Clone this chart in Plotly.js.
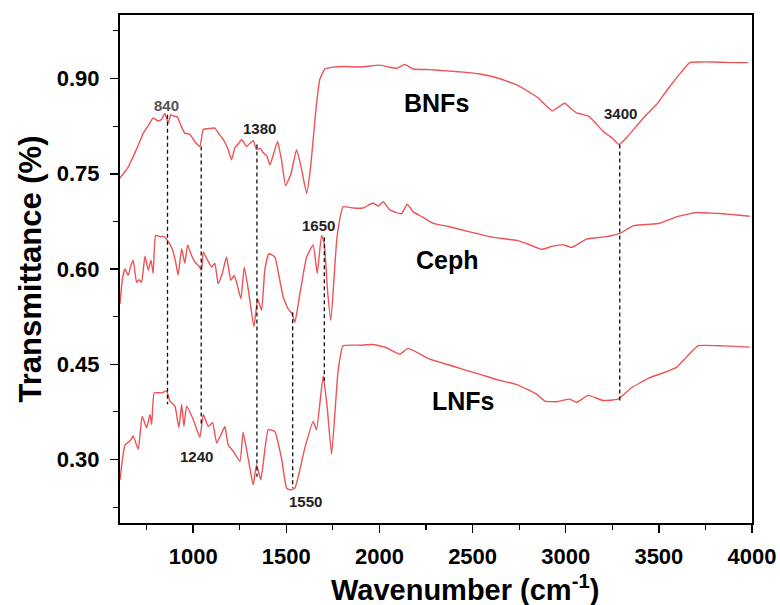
<!DOCTYPE html>
<html>
<head>
<meta charset="utf-8">
<script src="https://cdn.plot.ly/plotly-3.0.1.min.js"></script>
<style>html,body{margin:0;padding:0;background:#fff;}#chart{width:780px;height:605px;}</style>
</head>
<body>
<div id="chart"></div>
<script>
// ---- Data ----
const bnfsX = [607,650,678,705,732,760,785,812,830,848,866,880,893,916,935,955,982,1010,1036,1054,1080,1116,1140,1161,1185,1206,1224,1245,1260,1287,1305,1322,1340,1360,1376,1395,1412,1430,1453,1475,1496,1525,1555,1580,1609,1630,1644,1662,1680,1707,1751,1814,1900,2002,2050,2092,2136,2181,2270,2360,2450,2539,2620,2682,2750,2807,2850,2878,2929,2960,2995,3030,3058,3120,3160,3200,3250,3286,3330,3380,3430,3487,3530,3576,3620,3666,3720,3791,3880,3979];
const bnfsY = [0.743,0.760,0.777,0.795,0.814,0.826,0.838,0.833,0.836,0.845,0.830,0.843,0.841,0.839,0.825,0.814,0.812,0.800,0.793,0.820,0.821,0.822,0.812,0.804,0.790,0.772,0.791,0.798,0.804,0.793,0.798,0.802,0.788,0.790,0.783,0.778,0.764,0.780,0.801,0.770,0.731,0.750,0.788,0.760,0.719,0.760,0.804,0.860,0.899,0.915,0.918,0.919,0.918,0.921,0.918,0.916,0.922,0.915,0.914,0.912,0.910,0.907,0.902,0.896,0.888,0.878,0.870,0.862,0.849,0.855,0.861,0.852,0.846,0.841,0.830,0.817,0.806,0.796,0.808,0.825,0.842,0.859,0.876,0.894,0.910,0.925,0.926,0.926,0.925,0.925];

const cephX = [607,620,634,651,665,678,696,710,723,741,759,773,785,798,820,844,866,887,905,919,938,955,970,990,1009,1030,1045,1054,1075,1099,1116,1134,1156,1179,1202,1220,1233,1256,1274,1295,1326,1346,1367,1385,1406,1438,1460,1483,1510,1530,1546,1575,1609,1644,1666,1689,1704,1720,1739,1772,1805,1860,1912,1966,1993,2020,2056,2118,2149,2181,2230,2288,2370,2449,2520,2592,2660,2736,2800,2870,2930,2986,3031,3070,3111,3160,3219,3290,3361,3430,3504,3594,3650,3701,3780,3844,3920,3988];
const cephY = [0.545,0.585,0.600,0.590,0.605,0.614,0.579,0.583,0.579,0.620,0.598,0.614,0.593,0.653,0.651,0.651,0.643,0.632,0.612,0.590,0.632,0.609,0.638,0.622,0.611,0.605,0.598,0.627,0.615,0.603,0.609,0.577,0.593,0.619,0.582,0.590,0.579,0.553,0.603,0.569,0.509,0.553,0.535,0.600,0.624,0.619,0.590,0.556,0.537,0.530,0.516,0.565,0.619,0.638,0.593,0.653,0.640,0.570,0.519,0.650,0.698,0.696,0.696,0.704,0.699,0.706,0.693,0.687,0.702,0.690,0.682,0.672,0.667,0.661,0.656,0.651,0.648,0.645,0.639,0.631,0.636,0.638,0.634,0.640,0.647,0.649,0.651,0.656,0.668,0.670,0.672,0.682,0.686,0.689,0.688,0.687,0.685,0.683];

const lnfsX = [607,620,634,660,678,705,726,750,768,777,791,830,857,875,902,923,938,950,965,1000,1036,1054,1081,1104,1126,1149,1170,1188,1215,1251,1268,1295,1322,1340,1363,1403,1438,1474,1501,1519,1546,1599,1644,1662,1698,1720,1743,1778,1805,1900,1966,2038,2109,2154,2270,2360,2449,2540,2628,2736,2843,2888,2950,3022,3058,3120,3200,3281,3353,3451,3530,3594,3650,3710,3844,3988];
const lnfsY = [0.268,0.300,0.323,0.329,0.337,0.316,0.368,0.350,0.371,0.355,0.405,0.405,0.408,0.392,0.384,0.350,0.387,0.352,0.384,0.363,0.335,0.371,0.352,0.358,0.326,0.339,0.352,0.323,0.313,0.297,0.343,0.302,0.260,0.292,0.268,0.347,0.344,0.302,0.255,0.252,0.255,0.318,0.360,0.347,0.432,0.380,0.308,0.440,0.479,0.480,0.481,0.476,0.466,0.475,0.458,0.450,0.442,0.434,0.426,0.418,0.403,0.392,0.391,0.395,0.390,0.401,0.393,0.395,0.413,0.429,0.437,0.445,0.462,0.479,0.479,0.477];

// peak marker lines (dashed)
const peakX = [862,1043,1342,1534,1704,3290];
const peakTop = [0.843,0.793,0.796,0.532,0.650,0.796];
const peakBottom = [0.387,0.352,0.273,0.255,0.424,0.389];

// peak labels
const peakLabelText = ['840','1380','1650','3400','1240','1550'];
const peakLabelX = [857,1358,1671,3294,1018,1605];
const peakLabelY = [0.858,0.822,0.669,0.845,0.305,0.234];
const peakLabelColor = ['#555555','#222222','#222222','#222222','#222222','#222222'];

// series names
const seriesNames = ['BNFs','Ceph','LNFs'];
const seriesNameX = [2304,2365,2453];
const seriesNameY = [0.862,0.614,0.392];

const xTicks = [1000,1500,2000,2500,3000,3500,4000];
const yTicks = [0.30,0.45,0.60,0.75,0.90];
const xTitle = 'Wavenumber (cm<sup>-1</sup>)';
const yTitle = 'Transmittance (%)';

// ---- Plot ----
const FONT = 'Liberation Sans, Arial, sans-serif';
const red = 'rgb(237,82,86)';
const traces = [];
[[bnfsX,bnfsY,'BNFs'],[cephX,cephY,'Ceph'],[lnfsX,lnfsY,'LNFs']].forEach(([x,y,n])=>{
  traces.push({x:x,y:y,name:n,type:'scatter',mode:'lines',line:{color:red,width:1.4,shape:'spline',smoothing:0.4},showlegend:false,hoverinfo:'skip'});
});
peakX.forEach((px,i)=>{
  traces.push({x:[px,px],y:[peakTop[i],peakBottom[i]],type:'scatter',mode:'lines',
    line:{color:'#111',width:1.3,dash:'4px,3px'},showlegend:false,hoverinfo:'skip'});
});

const annotations = [];
peakLabelText.forEach((t,i)=>{
  annotations.push({x:peakLabelX[i],y:peakLabelY[i],text:t,showarrow:false,xref:'x',yref:'y',
    font:{family:FONT,size:15,color:peakLabelColor[i],weight:700}});
});
seriesNames.forEach((t,i)=>{
  annotations.push({x:seriesNameX[i],y:seriesNameY[i],text:t,showarrow:false,xref:'x',yref:'y',
    font:{family:FONT,size:25,color:'#000',weight:700}});
});
// x-axis title (placed as in the reference, slightly right of the axis centre)
annotations.push({x:0.546,y:-0.128,xref:'paper',yref:'paper',xanchor:'center',yanchor:'middle',
  text:xTitle,showarrow:false,font:{family:FONT,size:29,weight:700,color:'#000'}});

const layout = {
  width:780,height:605,
  margin:{l:120,r:28,t:15,b:82},
  paper_bgcolor:'#fff',plot_bgcolor:'#fff',
  font:{family:FONT,color:'#000'},
  xaxis:{range:[607,4000],tickvals:xTicks,ticktext:xTicks.map(String),
    showgrid:false,zeroline:false,showline:true,linecolor:'#000',linewidth:2,mirror:true,
    ticks:'outside',ticklen:8,tickwidth:1.5,tickcolor:'#000',ticklabelstandoff:5,
    minor:{tickvals:[750,1250,1750,2250,2750,3250,3750],ticks:'outside',ticklen:5,tickwidth:1.2,tickcolor:'#000',showgrid:false},
    tickfont:{family:FONT,size:22,weight:700,color:'#000'}},
  yaxis:{range:[0.2,1.0],tickvals:yTicks,ticktext:yTicks.map(v=>v.toFixed(2)),
    showgrid:false,zeroline:false,showline:true,linecolor:'#000',linewidth:2,mirror:true,
    ticks:'outside',ticklen:8,tickwidth:1.5,tickcolor:'#000',ticklabelstandoff:6,
    minor:{tickvals:[0.225,0.375,0.525,0.675,0.825,0.975],ticks:'outside',ticklen:5,tickwidth:1.2,tickcolor:'#000',showgrid:false},
    tickfont:{family:FONT,size:22,weight:700,color:'#000'},
    title:{text:yTitle,font:{family:FONT,size:31,weight:700,color:'#000'},standoff:6}},
  annotations:annotations
};
Plotly.newPlot('chart',traces,layout,{displayModeBar:false,staticPlot:true});
</script>
</body>
</html>
